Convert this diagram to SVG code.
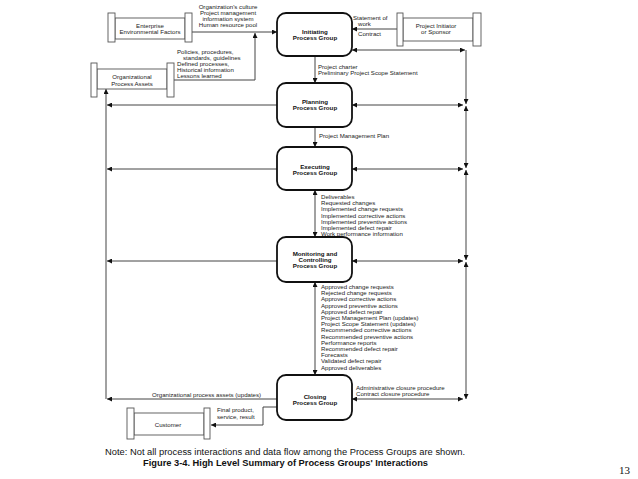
<svg xmlns="http://www.w3.org/2000/svg" width="638" height="479" viewBox="0 0 638 479">
<style>
.pg{fill:#fff;stroke:#111;stroke-width:1.8}
.ext{fill:#fff;stroke:#555;stroke-width:0.9}
.ln{fill:none;stroke:#444;stroke-width:1}
.t{font-family:"Liberation Sans",Arial,sans-serif;font-size:6.1px;fill:#222}
.tb{font-family:"Liberation Sans",Arial,sans-serif;font-size:6.2px;font-weight:bold;fill:#111;text-anchor:middle}
.tc{text-anchor:middle}
</style>
<defs>
<marker id="a" viewBox="0 0 10 10" refX="10" refY="5" markerWidth="6" markerHeight="5" markerUnits="userSpaceOnUse" orient="auto-start-reverse"><path d="M0,0 L10,5 L0,10 z" fill="#111"/></marker>
</defs>
<rect width="638" height="479" fill="#fff"/>

<g id="connectors">
<path class="ln" d="M192,32 H277" marker-end="url(#a)"/>
<path class="ln" d="M174,80 H255 V33" marker-end="url(#a)"/>
<path class="ln" d="M397,29 H352" marker-end="url(#a)"/>
<path class="ln" d="M315,56 V83" marker-end="url(#a)"/>
<path class="ln" d="M315,127 V147" marker-end="url(#a)"/>
<path class="ln" d="M315,190 V237" marker-start="url(#a)" marker-end="url(#a)"/>
<path class="ln" d="M315,282 V375" marker-start="url(#a)" marker-end="url(#a)"/>
<path class="ln" d="M352,50 H465" marker-start="url(#a)" marker-end="url(#a)"/>
<path class="ln" d="M352,105 H463" marker-start="url(#a)" marker-end="url(#a)"/>
<path class="ln" d="M352,169 H463" marker-start="url(#a)" marker-end="url(#a)"/>
<path class="ln" d="M352,261 H463" marker-start="url(#a)" marker-end="url(#a)"/>
<path class="ln" d="M352,399 H463" marker-start="url(#a)" marker-end="url(#a)"/>
<path class="ln" d="M466,50 V104" marker-end="url(#a)"/>
<path class="ln" d="M466,106 V168" marker-start="url(#a)" marker-end="url(#a)"/>
<path class="ln" d="M466,170 V260" marker-start="url(#a)" marker-end="url(#a)"/>
<path class="ln" d="M466,262 V399" marker-start="url(#a)" marker-end="url(#a)"/>
<path class="ln" d="M277,105 H107" marker-end="url(#a)"/>
<path class="ln" d="M277,169 H107" marker-end="url(#a)"/>
<path class="ln" d="M277,261 H107" marker-end="url(#a)"/>
<path class="ln" d="M277,399 H107" marker-end="url(#a)"/>
<path class="ln" d="M106,399 V89" marker-end="url(#a)"/>
<path class="ln" d="M277,407 H263 V425 H211" marker-end="url(#a)"/>
</g>

<g id="labels">
<text class="t tc" x="228" y="9">Organization's culture</text>
<text class="t tc" x="228" y="15">Project management</text>
<text class="t tc" x="228" y="21">information system</text>
<text class="t tc" x="228" y="27">Human resource pool</text>
<text class="t" x="177" y="53.5">Policies, procedures,</text>
<text class="t" x="183" y="59.5">standards, guidelines</text>
<text class="t" x="177" y="65.5">Defined processes,</text>
<text class="t" x="177" y="71.5">Historical information</text>
<text class="t" x="177" y="77.5">Lessons learned</text>
<text class="t" x="353" y="20">Statement of</text>
<text class="t" x="358" y="26">work</text>
<text class="t" x="358" y="36">Contract</text>
<text class="t" x="318" y="69">Project charter</text>
<text class="t" x="318" y="75">Preliminary Project Scope Statement</text>
<text class="t" x="319" y="138">Project Management Plan</text>
<g class="t">
<text x="321" y="199">Deliverables</text>
<text x="321" y="205.2">Requested changes</text>
<text x="321" y="211.4">Implemented change requests</text>
<text x="321" y="217.6">Implemented corrective actions</text>
<text x="321" y="223.8">Implemented preventive actions</text>
<text x="321" y="230">Implemented defect repair</text>
<text x="321" y="236.2">Work performance information</text>
</g>
<g class="t">
<text x="321" y="289">Approved change requests</text>
<text x="321" y="295.2">Rejected change requests</text>
<text x="321" y="301.4">Approved corrective actions</text>
<text x="321" y="307.6">Approved preventive actions</text>
<text x="321" y="313.8">Approved defect repair</text>
<text x="321" y="320">Project Management Plan (updates)</text>
<text x="321" y="326.2">Project Scope Statement (updates)</text>
<text x="321" y="332.4">Recommended corrective actions</text>
<text x="321" y="338.6">Recommended preventive actions</text>
<text x="321" y="344.8">Performance reports</text>
<text x="321" y="351">Recommended defect repair</text>
<text x="321" y="357.2">Forecasts</text>
<text x="321" y="363.4">Validated defect repair</text>
<text x="321" y="369.6">Approved deliverables</text>
</g>
<text class="t" x="356" y="390">Administrative closure procedure</text>
<text class="t" x="356" y="396">Contract closure procedure</text>
<text class="t" x="152" y="397">Organizational process assets (updates)</text>
<text class="t" x="217" y="412">Final product,</text>
<text class="t" x="217" y="419">service, result</text>
</g>

<g id="eef">
<rect class="ext" x="115" y="18" width="70" height="21"/>
<rect class="ext" x="108" y="13" width="7" height="29"/>
<rect class="ext" x="185" y="13" width="7" height="29"/>
<text class="t tc" x="150" y="28">Enterprise</text>
<text class="t tc" x="150" y="34">Environmental Factors</text>
</g>
<g id="opa">
<rect class="ext" x="97" y="69" width="70" height="20"/>
<rect class="ext" x="91" y="63" width="6" height="34"/>
<rect class="ext" x="167" y="63" width="7" height="34"/>
<text class="t tc" x="132" y="79">Organizational</text>
<text class="t tc" x="132" y="85.5">Process Assets</text>
</g>
<g id="sponsor">
<rect class="ext" x="403" y="18" width="70" height="23"/>
<rect class="ext" x="397" y="13" width="6" height="33"/>
<rect class="ext" x="473" y="13" width="8" height="33"/>
<text class="t tc" x="436" y="28">Project Initiator</text>
<text class="t tc" x="436" y="34">or Sponsor</text>
</g>
<g id="customer">
<rect class="ext" x="134" y="413" width="70" height="22"/>
<rect class="ext" x="127" y="408" width="7" height="31"/>
<rect class="ext" x="204" y="408" width="6" height="31"/>
<text class="t tc" x="168" y="427">Customer</text>
</g>

<g id="initiating">
<rect class="pg" x="277" y="13" width="75" height="43" rx="9"/>
<text class="tb" x="315" y="34">Initiating</text>
<text class="tb" x="315" y="40">Process Group</text>
</g>
<g id="planning">
<rect class="pg" x="277" y="83" width="75" height="44" rx="9"/>
<text class="tb" x="315" y="104">Planning</text>
<text class="tb" x="315" y="110">Process Group</text>
</g>
<g id="executing">
<rect class="pg" x="277" y="147" width="75" height="43" rx="9"/>
<text class="tb" x="315" y="169">Executing</text>
<text class="tb" x="315" y="175">Process Group</text>
</g>
<g id="monitoring">
<rect class="pg" x="277" y="237" width="75" height="45" rx="9"/>
<text class="tb" x="315" y="256">Monitoring and</text>
<text class="tb" x="315" y="262">Controlling</text>
<text class="tb" x="315" y="268">Process Group</text>
</g>
<g id="closing">
<rect class="pg" x="277" y="375" width="75" height="45" rx="9"/>
<text class="tb" x="315" y="399">Closing</text>
<text class="tb" x="315" y="405">Process Group</text>
</g>

<g id="caption">
<text x="105" y="455" font-family="Liberation Sans, Arial, sans-serif" font-size="8.5" fill="#111" textLength="360" lengthAdjust="spacingAndGlyphs">Note: Not all process interactions and data flow among the Process Groups are shown.</text>
<text x="143" y="466" font-family="Liberation Sans, Arial, sans-serif" font-size="8.3" font-weight="bold" fill="#111" textLength="285" lengthAdjust="spacingAndGlyphs">Figure 3-4. High Level Summary of Process Groups' Interactions</text>
<text x="619" y="474" font-family="Liberation Serif, Times New Roman, serif" font-size="11" fill="#111">13</text>
</g>
</svg>
